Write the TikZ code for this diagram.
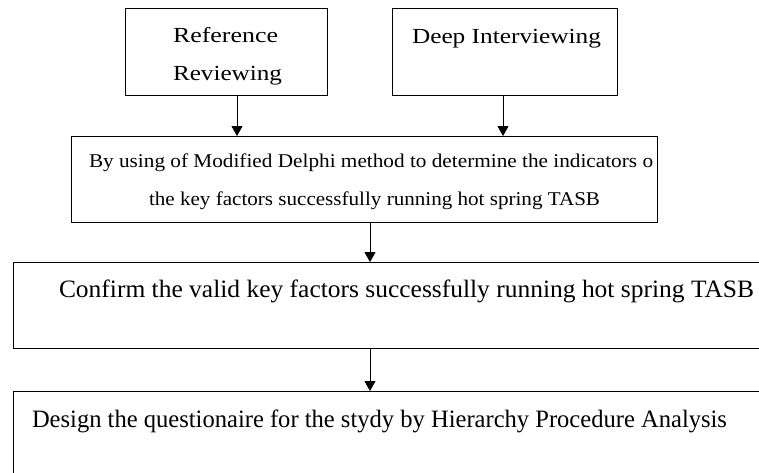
\documentclass[tikz,border=0pt]{standalone}
\usepackage{fontspec}
\setmainfont{Liberation Serif}
\usetikzlibrary{arrows.meta}
\tikzset{
  boxst/.style={draw, line width=1.3pt, inner sep=0pt, anchor=north west, rectangle},
  txt/.style={anchor=base west, inner sep=0pt, outer sep=0pt},
  arr/.style={line width=0.9pt, -{Triangle[width=11pt,length=10pt]}}
}
\newcommand{\fitxt}[3]{\resizebox{#1pt}{\height}{\fontsize{#2}{#2}\selectfont #3}}
\begin{document}
\begin{tikzpicture}[x=1pt,y=-1pt]
\useasboundingbox (0,0) rectangle (759,472);
\clip (0,0) rectangle (759,472);
\fill[white] (0,0) rectangle (759,472);
% boxes
\node[boxst, minimum width=202pt, minimum height=87pt] (box1) at (125,8) {};
\node[boxst, minimum width=225pt, minimum height=87pt] (box2) at (392,8) {};
\node[boxst, minimum width=586pt, minimum height=86pt] (box3) at (71,136) {};
\node[boxst, minimum width=762pt, minimum height=86pt] (box4) at (13,262) {};
\node[boxst, minimum width=762pt, minimum height=99pt] (box5) at (13,391) {};
% texts
\node[txt] (t1a) at (173,42) {\fitxt{105}{21.5}{Reference}};
\node[txt] (t1b) at (173,80) {\fitxt{109}{21.5}{Reviewing}};
\node[txt] (t2) at (412,43) {\fitxt{189}{21.5}{Deep Interviewing}};
\node[txt] (t3a) at (89,167) {\fitxt{564}{19.5}{By using of Modified Delphi method to determine the indicators o}};
\node[txt] (t3b) at (149,205) {\fitxt{451}{19.5}{the key factors successfully running hot spring TASB}};
\node[txt] (t4) at (59,297) {\fitxt{695}{25}{Confirm the valid key factors successfully running hot spring TASB}};
\node[txt] (t5) at (32,427) {\fitxt{695}{25}{Design the questionaire for the stydy by Hierarchy Procedure Analysis}};
% arrow x positions
\coordinate (c1) at (237,0);
\coordinate (c2) at (503,0);
\coordinate (c3) at (370,0);
\draw[arr] (box1.south -| c1) -- (box3.north -| c1);
\draw[arr] (box2.south -| c2) -- (box3.north -| c2);
\draw[arr] (box3.south -| c3) -- (box4.north -| c3);
\draw[arr] (box4.south -| c3) -- (box5.north -| c3);
\end{tikzpicture}
\end{document}
